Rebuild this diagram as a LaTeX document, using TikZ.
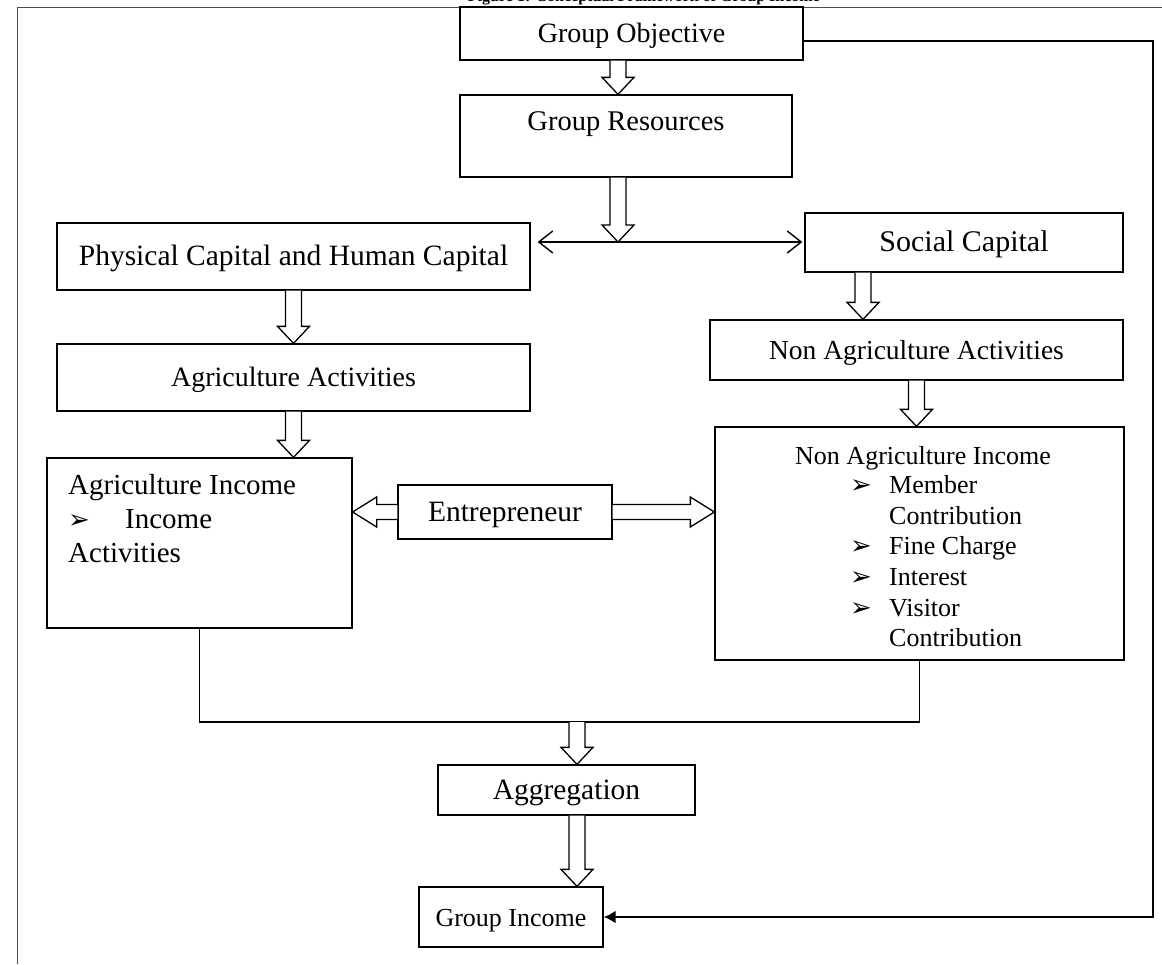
\documentclass[tikz,border=0pt]{standalone}
\usepackage{fontspec}
\setmainfont{Liberation Serif}
\newfontfamily\dejavu{DejaVu Sans}
\usetikzlibrary{calc,arrows.meta}
\newcommand{\blt}{{\dejavu\fontsize{26}{26}\selectfont ➢}}
\newcommand{\hdown}[2]{\draw[hollow] let \p1=#1, \p2=#2 in (\x1-8pt,\y1) -- (\x1-8pt,\y2+17pt) -- (\x1-16pt,\y2+17pt) -- (\x1,\y2) -- (\x1+16pt,\y2+17pt) -- (\x1+8pt,\y2+17pt) -- (\x1+8pt,\y1);}
\newcommand{\hleft}[2]{\draw[hollow] let \p1=#1, \p2=#2 in (\x1,\y1+7.5pt) -- (\x2+24pt,\y1+7.5pt) -- (\x2+24pt,\y1+15pt) -- (\x2,\y1) -- (\x2+24pt,\y1-15pt) -- (\x2+24pt,\y1-7.5pt) -- (\x1,\y1-7.5pt);}
\newcommand{\hright}[2]{\draw[hollow] let \p1=#1, \p2=#2 in (\x1,\y1+7.5pt) -- (\x2-24pt,\y1+7.5pt) -- (\x2-24pt,\y1+15pt) -- (\x2,\y1) -- (\x2-24pt,\y1-15pt) -- (\x2-24pt,\y1-7.5pt) -- (\x1,\y1-7.5pt);}
\begin{document}
\begin{tikzpicture}[x=1pt,y=-1pt,
  every node/.style={font=\fontsize{26}{31}\selectfont, inner sep=0pt},
  fs/.style={font=\fontsize{#1}{#1}\selectfont},
  box/.style={draw, line width=1.3pt, text height=18.5pt, text depth=0.5pt},
  hollow/.style={line width=1.3pt, fill=white, line join=miter},
  conn/.style={line width=1.3pt},
  frame/.style={line width=0.8pt, draw=black!70},
  fb/.style={line width=2.3pt, -{Latex[length=12pt,width=13pt]}},
  dbl/.style={line width=1.4pt, {Straight Barb[length=14pt,width=22pt]}-{Straight Barb[length=14pt,width=22pt]}}]
\useasboundingbox (0,0) rectangle (1162,964);
\node[font=\bfseries\fontsize{16}{19}\selectfont, anchor=base east] (title) at (820,1.2) {Figure 1: Conceptual Framework of Group Income};
\draw[frame] (17,964) -- (17,7) -- (1162,7);
% boxes
\node[box, fs=28, minimum width=343, minimum height=53] (obj) at (631.5,33.5) {Group Objective};
\node[box, minimum width=332, minimum height=82] (res) at (626,136) {};
\node[fs=28.5, text height=18.5pt, text depth=0.5pt] (rest) at (626,121) {Group Resources};
\node[box, fs=29.5, minimum width=473, minimum height=67] (phys) at (293.5,256.5) {Physical Capital and Human Capital};
\node[box, fs=28, minimum width=473, minimum height=67] (agact) at (293.5,377.5) {Agriculture Activities};
\node[box, fs=30, minimum width=318, minimum height=59] (social) at (964,242.5) {Social Capital};
\node[box, fs=27.5, minimum width=413, minimum height=60] (nonact) at (916.5,350) {Non Agriculture Activities};
\node[box, minimum width=305, minimum height=170] (agInc) at (199.5,543) {};
\node[anchor=north west, align=left, font=\fontsize{29}{34}\selectfont] (agIncT) at (68,474) {Agriculture Income\\\makebox[57pt][l]{\blt}Income\\Activities};
\node[box, fs=29.5, minimum width=214, minimum height=54] (ent) at (505,512) {Entrepreneur};
\node[box, minimum width=409, minimum height=233] (nonInc) at (919.5,543.5) {};
\node[text height=17pt, text depth=0.5pt] (nonIncT) at (923,456) {Non Agriculture Income};
\node[anchor=north west, font=\fontsize{26}{30.6}\selectfont] (nonIncL) at (850,472) {\begin{tabular}{@{}l@{}l@{}}
\makebox[39pt][l]{\blt} & Member\\
 & Contribution\\
\makebox[39pt][l]{\blt} & Fine Charge\\
\makebox[39pt][l]{\blt} & Interest\\
\makebox[39pt][l]{\blt} & Visitor\\
 & Contribution
\end{tabular}};
\node[box, fs=29.5, minimum width=257, minimum height=50] (agg) at (566.5,790) {Aggregation};
\node[box, fs=26, minimum width=184, minimum height=60] (ginc) at (511,917) {Group Income};
% coordinates
\coordinate (split) at (618,242);
\coordinate (mrg) at (577,722);
\coordinate (fbr) at (1153,0);
% connectors
\hdown{(obj.south -| split)}{(res.north)}
\hdown{(res.south -| split)}{(split)}
\draw[dbl] ($(phys.east |- split)+(7,0)$) -- ($(social.west |- split)+(-2,0)$);
\hdown{($(social.south)+(-101,0)$)}{(nonact.north)}
\hdown{(nonact.south)}{(nonInc.north)}
\hdown{(phys.south)}{(agact.north)}
\hdown{(agact.south)}{(agInc.north)}
\hleft{(ent.west)}{(agInc.east)}
\hright{(ent.east)}{(nonInc.west)}
\draw[conn] (agInc.south) |- (mrg) -| (nonInc.south);
\hdown{(mrg)}{(agg.north)}
\hdown{(agg.south -| mrg)}{(ginc.north)}
\draw[fb] ($(obj.east)+(0,7.5)$) -| (fbr |- ginc.east) -- (ginc.east);
\end{tikzpicture}
\end{document}
